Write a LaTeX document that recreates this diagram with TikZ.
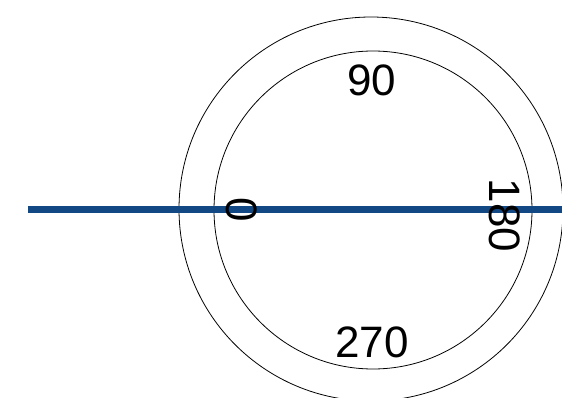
\documentclass[tikz,border=0pt]{standalone}
\usepackage{fontspec}
\setmainfont{Liberation Sans}
\definecolor{axisblue}{RGB}{18,72,132}
\begin{document}
\begin{tikzpicture}[x=1pt,y=-1pt,
  ring/.style={draw=black,line width=0.8pt},
  deg/.style={inner sep=0pt,font=\fontsize{44}{44}\selectfont},
  axis/.style={draw=axisblue,line width=7pt}]
\clip (0,0) rectangle (562,398);
\fill[white] (0,0) rectangle (562,398);
\coordinate (c) at (371,209);
\draw[ring] (c) circle[radius=192];
\draw[ring] (373,210) circle[radius=159];
\coordinate (l) at (28,209.5);
\coordinate (r) at (566,209.5);
\draw[axis] (l) -- (r);
\node[deg] (t90) at (372,80) {90};
\node[deg] (t270) at (372,342.5) {270};
\node[deg,rotate=-90] (t0) at (241.5,209.5) {0};
\node[deg,rotate=-90] (t180) at (504.5,215.5) {180};
\end{tikzpicture}
\end{document}
